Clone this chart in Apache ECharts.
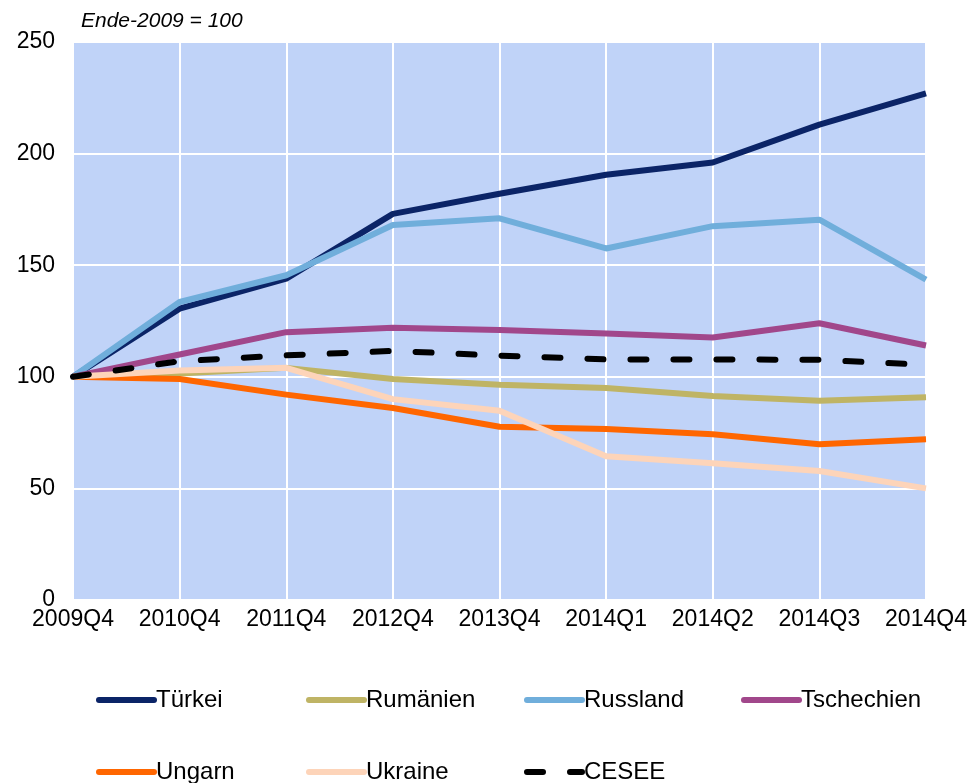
<!DOCTYPE html>
<html>
<head>
<meta charset="utf-8">
<script src="https://cdn.jsdelivr.net/npm/echarts@6/dist/echarts.min.js"></script>
<style>
  html, body { margin: 0; padding: 0; background: #fff; }
  #chart { width: 972px; height: 783px; }
</style>
</head>
<body>
<div id="chart"></div>
<script>
// Quartale
var categories = ['2009Q4', '2010Q4', '2011Q4', '2012Q4', '2013Q4', '2014Q1', '2014Q2', '2014Q3', '2014Q4'];

// Werte (Ende-2009 = 100)
var tuerkei    = [100, 130.5, 144, 173, 182, 190.5, 196, 213, 227];
var rumaenien  = [100, 101.5, 104, 99, 96.4, 95, 91.4, 89.3, 90.8];
var russland   = [100, 133.5, 145.5, 168, 171, 157.5, 167.5, 170.4, 143.5];
var tschechien = [100, 110, 120, 122, 121, 119.4, 117.6, 124, 114];
var ungarn     = [100, 99, 92, 86, 77.6, 76.6, 74.3, 69.8, 72];
var ukraine    = [100, 102.8, 104, 90, 84.8, 64.4, 61.3, 57.8, 50];
var cesee      = [100, 107, 109.6, 111.6, 109.5, 107.8, 107.8, 107.6, 105.4];

var yTicks = [0, 50, 100, 150, 200, 250];

var FONT = '"Liberation Sans", Arial, sans-serif';

function mkSeries(name, data, color, dashed) {
    return {
        name: name,
        type: 'line',
        data: data,
        symbol: 'none',
        smooth: false,
        lineStyle: {
            color: color,
            width: 6,
            type: dashed ? [16, 27] : 'solid',
            cap: dashed ? 'round' : 'butt',
            join: 'round'
        },
        itemStyle: { color: color },
        emphasis: { disabled: true }
    };
}

// eine Legende pro Eintrag, damit die Spalten wie im Original sitzen
function mkLegend(name, left, top) {
    return {
        data: [name],
        left: left,
        top: top,
        itemWidth: 55,
        itemHeight: 14,
        itemGap: 0,
        itemStyle: { opacity: 0 },
        lineStyle: { width: 6, cap: 'round' },
        textStyle: { fontFamily: FONT, fontSize: 24, color: '#000', padding: [0, 0, 0, -3] },
        selectedMode: false
    };
}

var chart = echarts.init(document.getElementById('chart'));
chart.setOption({
    animation: false,
    backgroundColor: '#fff',
    title: {
        text: 'Ende-2009 = 100',
        left: 76,
        top: 6,
        textStyle: { fontFamily: FONT, fontSize: 21, fontStyle: 'italic', fontWeight: 'normal', color: '#000' }
    },
    grid: { left: 73, right: 46, top: 42, bottom: 183, show: true, backgroundColor: '#c0d3f8', borderWidth: 0 },
    legend: [
        mkLegend('Türkei', 91, 683),
        mkLegend('Rumänien', 301, 683),
        mkLegend('Russland', 519, 683),
        mkLegend('Tschechien', 736, 683),
        mkLegend('Ungarn', 91, 755),
        mkLegend('Ukraine', 301, 755),
        mkLegend('CESEE', 519, 755)
    ],
    xAxis: {
        type: 'category',
        data: categories,
        boundaryGap: false,
        axisLine: { show: false },
        axisTick: { show: false },
        axisLabel: { fontFamily: FONT, fontSize: 23, color: '#000', margin: 8 },
        splitLine: { show: true, lineStyle: { color: '#fff', width: 2 } }
    },
    yAxis: {
        type: 'value',
        min: yTicks[0],
        max: yTicks[yTicks.length - 1],
        interval: 50,
        axisLine: { show: false },
        axisTick: { show: false },
        axisLabel: { fontFamily: FONT, fontSize: 23, color: '#000', margin: 18 },
        splitLine: { show: true, lineStyle: { color: '#fff', width: 2 } }
    },
    series: [
        mkSeries('Türkei', tuerkei, '#0b2467'),
        mkSeries('Rumänien', rumaenien, '#bfb465'),
        mkSeries('Russland', russland, '#70aedb'),
        mkSeries('Tschechien', tschechien, '#a1478b'),
        mkSeries('Ungarn', ungarn, '#ff6600'),
        mkSeries('Ukraine', ukraine, '#fdd4b9'),
        mkSeries('CESEE', cesee, '#000000', true)
    ]
});
</script>
</body>
</html>
